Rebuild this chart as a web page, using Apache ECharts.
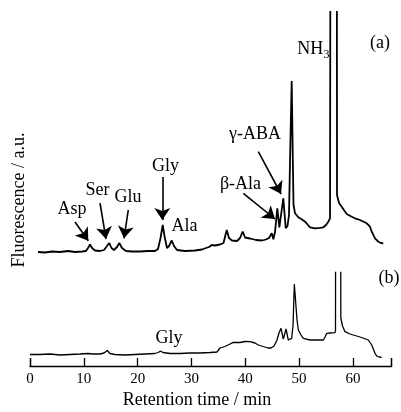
<!DOCTYPE html>
<html><head><meta charset="utf-8">
<script src="https://cdn.jsdelivr.net/npm/echarts@6/dist/echarts.min.js"></script>
<style>html,body{margin:0;padding:0;background:#fff}#c{width:401px;height:412px}</style>
</head><body><div id="c"></div>
<script>
// Retention times (min) and fluorescence (a.u.) for chromatogram (a)
var timeA = [1.49,2.79,4.09,5.57,7.06,8.36,9.66,10.40,10.78,11.15,11.52,12.08,13.01,13.75,14.31,14.73,15.14,15.61,16.16,16.59,17.09,17.84,18.95,20.44,21.92,23.23,23.78,24.25,24.66,24.99,25.45,25.83,26.33,26.76,27.31,28.80,30.66,31.96,32.70,33.26,33.76,34.37,35.30,35.95,36.55,36.97,37.53,38.46,39.02,39.52,39.95,40.88,41.99,43.11,43.85,44.41,44.91,45.21,45.52,45.95,46.32,46.64,47.06,47.51,47.84,48.12,48.35,48.62,48.83,48.96,49.24,49.85,50.54,51.10,51.65,52.02,52.95,53.88,54.50,55.00,55.42,55.74,55.83,55.93,56.95,57.04,57.41,57.91,58.84,59.77,60.39,61.31,62.56,63.17,63.49,64.10,64.71,65.22,65.64];
var signalA = [114,113.5,114.5,114,115,114,114.5,115,118,121.5,118,115.5,115,116,120,123,118,116,119,123,118,115,114.5,114.5,115,115,117,128,141,130,118,120,125.5,120,116,115,115.5,116.5,118,119,121,120.5,121.5,123,136,128,125.5,125,128,134.5,128.5,127.5,126,125.5,126.5,128,132.7,126.7,134,157.7,138.7,151,167.7,137.7,140,151,216,285,206,161,152.7,148.7,146.5,144.3,141,138.7,137.7,138.2,138.7,141,144.3,147.7,148,900,900,171,163,159.3,152,149.3,147.7,146,142.7,139.3,134.3,127.7,124.3,123,122.7];
// Chromatogram (b)
var timeB = [0,1.86,3.72,5.57,7.43,9.29,10.78,11.15,11.71,13.01,13.75,14.36,14.86,15.79,17.65,19.51,21.37,23.23,23.78,24.28,24.71,26.01,27.87,29.73,31.59,33.44,34.74,35.30,35.62,36.23,36.79,37.77,39.02,39.95,40.88,41.80,42.42,43.29,44.22,44.78,45.34,45.89,46.26,46.64,47.06,47.57,47.99,48.62,48.87,49.11,49.37,49.61,49.85,50.35,50.78,52.02,53.14,54.50,54.81,55.13,55.74,56.67,56.76,56.82,57.64,57.75,58.06,58.53,59.46,60.07,61.31,62.86,63.49,64.10,64.42,64.84,65.35];
var signalB = [11.5,11.5,12,11,11.5,12,12.5,13,12,12,13,15.5,12.5,11.5,11,11.5,12,12.5,13.5,14.8,13.5,12.5,12.5,13,13,13.5,14,18,20,19.5,21,23.7,23.5,24.5,24.3,23,21,19.5,18,18,20,26,33,37.7,27,37,26,27.7,41,82,82.7,46,36,31,27.7,26,26,26,29,32.7,33,33.3,36,400,400,48,40,34.3,32,31,29,26,21,12.7,10,9,8.7];
var xTicks = [0,10,20,30,40,50,60];
var xMax = 67.2;
// Peak annotations: [label, time, signal] and arrows [fromTime, fromSignal, toTime, toSignal]
var labelsA = [['Asp',7.80,157],['Ser',12.54,176],['Glu',18.21,169],['Gly',25.18,200],['Ala',28.71,140],['γ-ABA',41.80,232],['β-Ala',39.11,182],['(a)',65.03,323]];
var arrowsA = [[8.36,144,10.83,125.3],[13.01,163,14.12,127],[18.26,156,17.47,127.7],[24.58,189,24.58,146],[39.63,172.7,45.52,147],[42.42,214.3,46.64,172]];
var labelsB = [['Gly',25.83,28],['(b)',66.7,88]];

var FONT = 'Liberation Serif';
function zip(t, v){ return t.map(function(x,i){ return [x, v[i]]; }); }
function lab(arr, size){
  return arr.map(function(a){ return {name:a[0], coord:[a[1],a[2]], label:{fontSize:size||18}}; });
}
var mpA = lab(labelsA);
mpA.push({name:'NH', coord:[52.08,317], label:{fontSize:18}});
mpA.push({name:'3', coord:[55.10,311], label:{fontSize:12}});

var chart = echarts.init(document.getElementById('c'), null, {renderer:'canvas'});
chart.setOption({
  animation:false,
  backgroundColor:'#fff',
  grid:[
    {left:30, right:9.3, top:12, height:354, containLabel:false},
    {left:30, right:9.3, top:272.5, height:93.5, containLabel:false}
  ],
  xAxis:[
    {gridIndex:0, type:'value', min:0, max:xMax, show:false},
    {gridIndex:1, type:'value', min:0, max:xMax, interval:10, position:'bottom',
      axisLine:{show:true, lineStyle:{color:'#000', width:1.3}},
      axisTick:{show:true, inside:true, length:8, lineStyle:{color:'#000', width:1.3}},
      axisLabel:{show:true, margin:6, color:'#000', fontFamily:FONT, fontSize:15,
        formatter:function(v){ return xTicks.indexOf(v)>=0 ? String(v) : ''; }},
      splitLine:{show:false}},
    {gridIndex:1, type:'value', min:0, max:xMax, interval:xMax, position:'bottom', offset:0,
      axisLine:{show:false}, axisLabel:{show:false}, splitLine:{show:false},
      axisTick:{show:true, inside:true, length:8, lineStyle:{color:'#000', width:1.3}}}
  ],
  yAxis:[
    {gridIndex:0, type:'value', min:0, max:354, show:false},
    {gridIndex:1, type:'value', min:0, max:93.5, show:false}
  ],
  graphic:[
    {type:'text', x:0, style:{text:'Retention time / min', font:'18px "Liberation Serif"', fill:'#000', x:197, y:400, textAlign:'center', textVerticalAlign:'middle'}},
    {type:'text', rotation:Math.PI/2, x:19, y:200, style:{text:'Fluorescence / a.u.', font:'18px "Liberation Serif"', fill:'#000', textAlign:'center', textVerticalAlign:'middle'}}
  ],
  series:[
    {type:'line', xAxisIndex:0, yAxisIndex:0, data:zip(timeA, signalA), showSymbol:false, symbol:'none', clip:true,
      lineStyle:{color:'#000', width:1.8}, z:3,
      markPoint:{symbol:'circle', symbolSize:0, silent:true,
        label:{show:true, position:'inside', color:'#000', fontFamily:FONT, formatter:function(p){return p.name;}},
        data:mpA},
      markLine:{silent:true, symbol:['none','arrow'], symbolSize:12,
        itemStyle:{color:'#000'},
        lineStyle:{color:'#000', width:1.6, type:'solid'}, label:{show:false},
        data:arrowsA.map(function(a){ return [{coord:[a[0],a[1]]},{coord:[a[2],a[3]]}]; })}
    },
    {type:'line', xAxisIndex:1, yAxisIndex:1, data:zip(timeB, signalB), showSymbol:false, symbol:'none', clip:true,
      lineStyle:{color:'#000', width:1.3}, z:3,
      markPoint:{symbol:'circle', symbolSize:0, silent:true,
        label:{show:true, position:'inside', color:'#000', fontFamily:FONT, formatter:function(p){return p.name;}},
        data:lab(labelsB)}
    }
  ]
});
</script></body></html>
